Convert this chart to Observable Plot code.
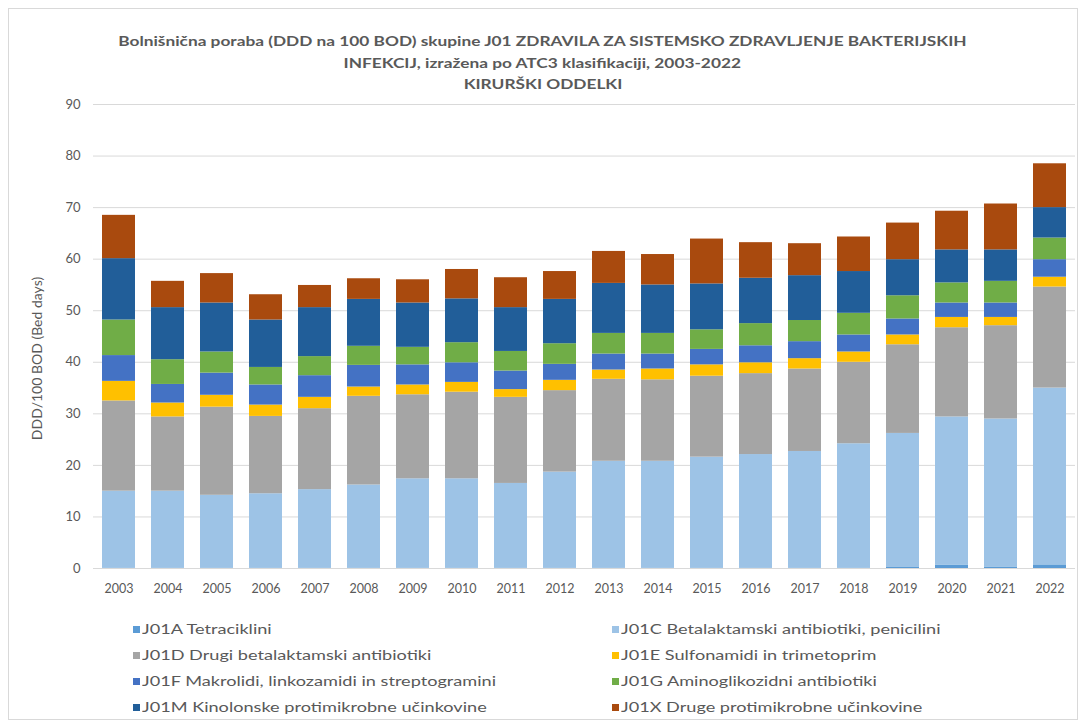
<!DOCTYPE html>
<html>
<head>
<meta charset="utf-8">
<script src="https://cdn.jsdelivr.net/npm/d3@7"></script>
<script src="https://cdn.jsdelivr.net/npm/@observablehq/plot@0.6"></script>
<style>
  html, body { margin: 0; padding: 0; background: #fff; }
  #wrap { position: relative; width: 1085px; height: 728px; font-family: Lato, "Open Sans", sans-serif; color: #595959; }
  #frame { position: absolute; left: 8px; top: 8px; width: 1068px; height: 710px; border: 1px solid #d9d9d9; }
  #title { position: absolute; left: 0; width: 1085px; top: 31px; text-align: center; font-weight: bold; font-size: 13.5px; line-height: 21.5px; color: #595959; }
  #title span { display: inline-block; transform: scaleX(1.28); white-space: nowrap; }
  #chart { position: absolute; left: 0; top: 95px; }
  #legend { position: absolute; left: 0; top: 623px; width: 1085px; font-size: 12.5px; color: #595959; }
  .item { position: absolute; white-space: nowrap; line-height: 14px; }
  .sw { display: inline-block; width: 7px; height: 7px; margin-right: 2px; vertical-align: 1px; }
  .lt { display: inline-block; transform: scaleX(1.45); transform-origin: left center; }
</style>
</head>
<body>
<div id="wrap">
  <div id="frame"></div>
  <div id="title"></div>
  <div id="chart"></div>
  <div id="legend"></div>
</div>
<script>
const titleLines = [
  "Bolnišnična poraba (DDD na 100 BOD) skupine J01 ZDRAVILA ZA SISTEMSKO ZDRAVLJENJE BAKTERIJSKIH",
  "INFEKCIJ, izražena po ATC3 klasifikaciji, 2003-2022",
  "KIRURŠKI ODDELKI"
];
const yLabel = "DDD/100 BOD (Bed days)";
const years = ["2003","2004","2005","2006","2007","2008","2009","2010","2011","2012","2013","2014","2015","2016","2017","2018","2019","2020","2021","2022"];
const seriesNames = [
  "J01A Tetraciklini",
  "J01C Betalaktamski antibiotiki, penicilini",
  "J01D Drugi betalaktamski antibiotiki",
  "J01E Sulfonamidi in trimetoprim",
  "J01F Makrolidi, linkozamidi in streptogramini",
  "J01G Aminoglikozidni antibiotiki",
  "J01M Kinolonske protimikrobne učinkovine",
  "J01X Druge protimikrobne učinkovine"
];
const seriesColors = ["#5B9BD5","#9DC3E6","#A5A5A5","#FFC000","#4472C4","#70AD47","#215E99","#A94A0E"];

const j01a = [0.1,0.1,0.1,0.1,0.1,0.1,0.1,0.1,0.1,0.1,0.1,0.1,0.1,0.1,0.1,0.1,0.2,0.6,0.3,0.7];
const j01c = [14.9,14.9,14.1,14.4,15.2,16.1,17.3,17.3,16.4,18.6,20.7,20.7,21.5,22.0,22.6,24.1,26.0,28.8,28.7,34.3];
const j01d = [17.5,14.4,17.1,15.0,15.7,17.2,16.3,16.8,16.7,15.8,15.9,15.8,15.7,15.7,16.0,15.8,17.2,17.3,18.1,19.6];
const j01e = [3.8,2.7,2.3,2.2,2.2,1.8,1.9,1.9,1.5,2.0,1.8,2.1,2.2,2.1,2.0,2.0,1.9,2.0,1.6,1.9];
const j01f = [5.0,3.6,4.3,3.9,4.2,4.2,3.9,3.8,3.6,3.1,3.1,2.9,3.0,3.3,3.3,3.3,3.1,2.8,2.8,3.4];
const j01g = [6.9,4.8,4.1,3.4,3.7,3.7,3.4,3.9,3.8,4.0,4.0,4.0,3.8,4.3,4.1,4.2,4.5,3.9,4.2,4.2];
const j01m = [11.9,10.1,9.5,9.2,9.5,9.1,8.6,8.5,8.5,8.6,9.7,9.4,8.9,8.8,8.7,8.1,7.0,6.4,6.1,5.9];
const j01x = [8.4,5.1,5.7,4.9,4.3,4.0,4.5,5.7,5.8,5.4,6.2,5.9,8.7,6.9,6.2,6.7,7.1,7.5,8.9,8.5];
const yTicks = [0,10,20,30,40,50,60,70,80,90];

const seriesValues = [j01a, j01c, j01d, j01e, j01f, j01g, j01m, j01x];
const data = [];
seriesNames.forEach((s, i) => {
  years.forEach((y, j) => data.push({year: y, series: s, value: seriesValues[i][j]}));
});

document.getElementById("title").innerHTML = titleLines.map(t => `<div><span>${t}</span></div>`).join("");

const plot = Plot.plot({
  width: 1085,
  height: 510,
  marginLeft: 93,
  marginRight: 10,
  marginTop: 9,
  marginBottom: 37,
  style: {fontFamily: "Lato, 'Open Sans', sans-serif", fontSize: "12px", color: "#595959", background: "transparent"},
  x: {domain: years, paddingInner: 0.33, paddingOuter: 0.165, label: null},
  y: {domain: [0, 90], ticks: yTicks, label: null},
  color: {domain: seriesNames, range: seriesColors},
  marks: [
    Plot.gridY(yTicks, {stroke: "#d9d9d9", strokeOpacity: 1, strokeWidth: 1}),
    Plot.barY(data, {x: "year", y: "value", fill: "series", order: null}),
    Plot.axisX({tickSize: 0, tickPadding: 16, fontSize: 12.5, fill: "#595959"}),
    Plot.axisY(yTicks, {tickSize: 0, tickPadding: 13, fontSize: 13, fill: "#595959", label: null}),
    Plot.text([yLabel], {frameAnchor: "left", dx: -56, dy: 22, rotate: -90, fontSize: 14, fill: "#595959", textAnchor: "middle"})
  ]
});
document.getElementById("chart").appendChild(plot);

const legend = document.getElementById("legend");
const pos = [[133, 0],[612, 0],[133, 26],[612, 26],[133, 52],[612, 52],[133, 78],[612, 78]];
seriesNames.forEach((s, i) => {
  const d = document.createElement("div");
  d.className = "item";
  d.style.left = pos[i][0] + "px";
  d.style.top = pos[i][1] + "px";
  d.innerHTML = `<span class="sw" style="background:${seriesColors[i]}"></span><span class="lt">${s}</span>`;
  legend.appendChild(d);
});
</script>
</body>
</html>
